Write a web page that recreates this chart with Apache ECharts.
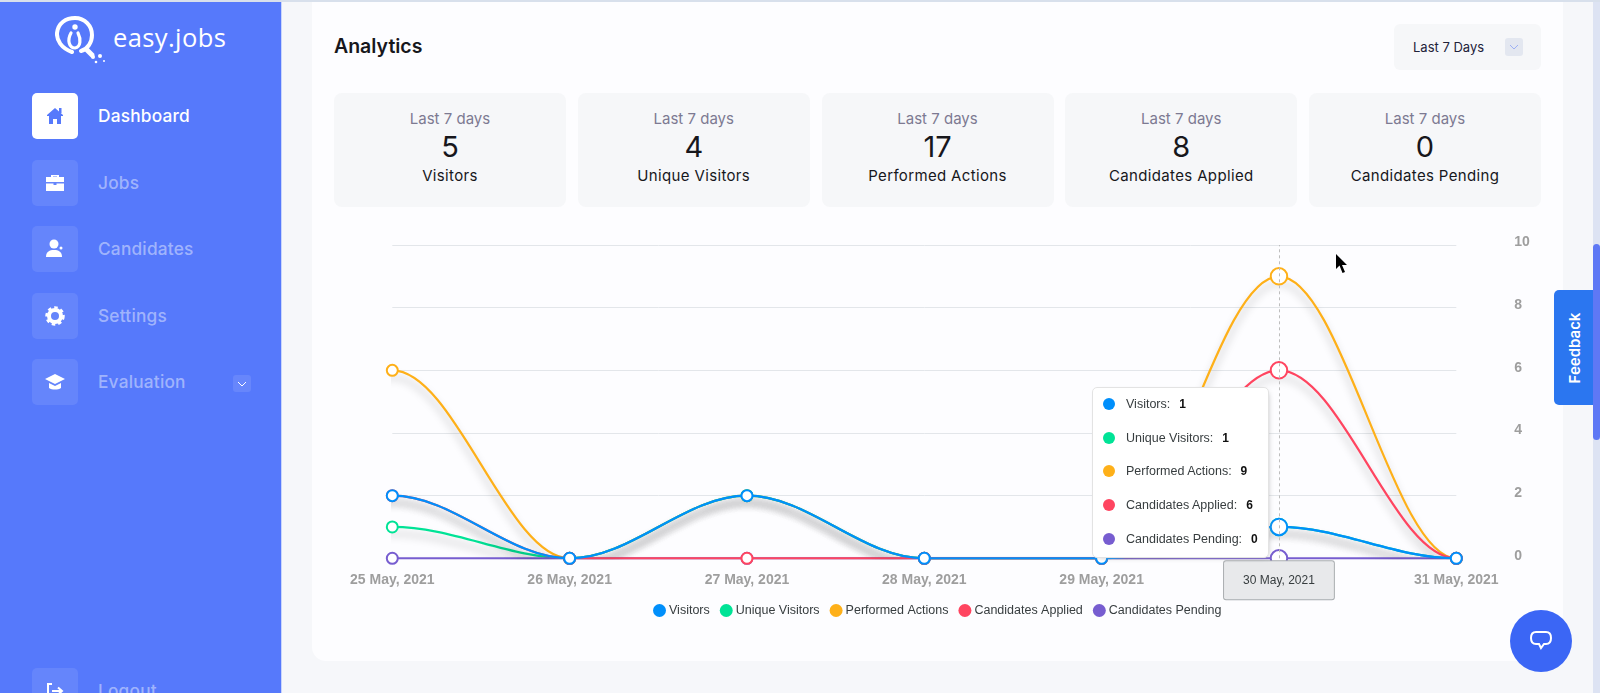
<!DOCTYPE html>
<html>
<head>
<meta charset="utf-8">
<style>
  html, body { margin: 0; height: 100%; overflow: hidden; background: #f6f7fa; font-family: Inter, "Noto Sans", sans-serif; }
  .abs { position: absolute; }
  #topline { left: 0; top: 0; width: 1600px; height: 2px; background: #d8e0ec; z-index: 3; }
  #sidebar { left: 0; top: 0; width: 281px; height: 693px; background: #5679fb; border-right: 1px solid #c9d5fb; }
  #panel { left: 312px; top: 0; width: 1251px; height: 661px; background: #fdfdff; border-radius: 0 0 14px 14px; }
  #scroll { left: 1593px; top: 0; width: 7px; height: 693px; background: #dde3f3; }
  #thumb { left: 1593px; top: 244px; width: 7px; height: 196px; background: #5e78f5; border-radius: 4px; }
  .nav-box { left: 32px; width: 46px; height: 46px; border-radius: 5px; background: rgba(255,255,255,.09); }
  .nav-box.active { background: #fff; }
  .nav-text { left: 98px; font-size: 17.3px; font-weight: 500; color: rgba(255,255,255,.45); line-height: 24px; letter-spacing: .2px; }
  .nav-text.active { color: #fff; }
  .stat { top: 93px; width: 232px; height: 114px; background: #f6f7f9; border-radius: 8px; text-align: center; }
  .stat .t { position: absolute; top: 16px; width: 100%; font-size: 15px; line-height: 20px; color: #7d7a92; }
  .stat .n { position: absolute; top: 34px; width: 100%; font-size: 29px; line-height: 40px; color: #17171c; }
  .stat .l { position: absolute; top: 73px; width: 100%; font-size: 15px; line-height: 20px; letter-spacing: .35px; color: #17171c; }
  #chart { left: 0; top: 0; width: 1600px; height: 693px; z-index: 2; }
  #feedback { left: 1554px; top: 290px; width: 39px; height: 115px; background: #2b76f0; border-radius: 5px 0 0 5px; z-index: 3; }
  #feedback span { position: absolute; left: 50%; top: 50%; transform: translate(-50%,-50%) rotate(-90deg); color: #fff; font-size: 15px; font-weight: 600; white-space: nowrap; }
  #chat { left: 1510px; top: 610px; width: 62px; height: 62px; border-radius: 50%; background: #3b66f5; z-index: 3; }
</style>
</head>
<body>
<div class="abs" id="topline"></div>
<div class="abs" id="sidebar"></div>
<div class="abs" id="panel"></div>
<div class="abs" id="scroll"></div>
<div class="abs" id="thumb"></div>

<svg class="abs" style="left:55px;top:15px" width="54" height="52" viewBox="0 0 54 52" fill="none" stroke="#fff" stroke-linecap="round">
  <path d="M17 37C6 33 1.500 25 2 18C3 8 11 3 20 3C30 3 37 11 37 20C37 27 33 34 26 36" stroke-width="4"/>
  <path d="M16 18C12 25 14 33 20 33C26 32 26 24 23 18" stroke-width="3.200"/>
  <circle cx="20" cy="12" r="2.700" fill="#fff" stroke="none"/>
  <path d="M32 35L37 40" stroke-width="5"/>
  <circle cx="38" cy="42" r="2" fill="#fff" stroke="none"/><circle cx="45" cy="41" r="2" fill="#fff" stroke="none"/>
  <circle cx="41" cy="47" r="1.300" fill="#fff" stroke="none"/><circle cx="49" cy="46" r="1" fill="#fff" stroke="none"/>
</svg>
<div class="abs" style="left:113px;top:18px;font:400 25.500px/38px 'Open Sans';color:#fff;letter-spacing:.4px">easy.jobs</div>

<div class="abs" style="left:334px;top:32px;font-size:19.5px;line-height:28px;font-weight:600;color:#17171c">Analytics</div>
<div class="abs" style="left:1394px;top:24px;width:147px;height:46px;background:#f6f7f9;border-radius:6px"></div>
<div class="abs" style="left:1413px;top:37px;font-size:13px;line-height:20px;color:#22223a">Last 7 Days</div>
<div class="abs" style="left:1505px;top:38px;width:18px;height:18px;background:#e3e7f0;border-radius:3px"></div>
<svg class="abs" style="left:1509px;top:44px" width="10" height="7" fill="none" stroke="#9db0f5"><path d="M1 1L5 5L9 1"/></svg>

<div id="furniture"></div>
<div class="abs" style="left:233px;top:375px;width:18px;height:17px;background:rgba(255,255,255,.1);border-radius:3px"></div>
<svg class="abs" style="left:237px;top:381px" width="10" height="7" fill="none" stroke="#fff"><path d="M1 1L5 5L9 1"/></svg>
<div class="abs" id="chart"></div>

<svg class="abs" style="left:1336px;top:254px;z-index:3" width="12" height="20" viewBox="0 0 12 20"><path d="M0 0V15L3.500 11.500L6.500 19L9 18L6 11H11Z" fill="#000"/></svg>
<div class="abs" id="feedback"><span>Feedback</span></div>
<div class="abs" id="chat">
  <svg class="abs" style="left:20px;top:21px" width="22" height="22" fill="none" stroke="#fff" stroke-width="2"><path d="M6 1H16C19 1 21 3 21 7C21 11 19 13 16 13H14L11 17L9 13H6C3 13 1 11 1 7C1 3 3 1 6 1Z"/></svg>
</div>

<script src="https://cdn.jsdelivr.net/npm/echarts@6/dist/echarts.min.js"></script>
<script>
var categories = ['25 May, 2021', '26 May, 2021', '27 May, 2021', '28 May, 2021', '29 May, 2021', '30 May, 2021', '31 May, 2021'];
var seriesNames = ['Visitors', 'Unique Visitors', 'Performed Actions', 'Candidates Applied', 'Candidates Pending'];
var visitors = [2, 0, 2, 0, 0, 1, 0];
var uniqueVisitors = [1, 0, 2, 0, 0, 1, 0];
var performedActions = [6, 0, 2, 0, 0, 9, 0];
var candidatesApplied = [2, 0, 0, 0, 0, 6, 0];
var candidatesPending = [0, 0, 0, 0, 0, 0, 0];
var seriesColors = ['#008FFB', '#00E396', '#FEB019', '#FF4560', '#775DD0'];
var seriesZ = [6, 3, 2, 5, 4];
var hoverDay = 5;

var statNames = ['Visitors', 'Unique Visitors', 'Performed Actions', 'Candidates Applied', 'Candidates Pending'];
var statValues = [5, 4, 17, 8, 0];
var navItems = ['Dashboard', 'Jobs', 'Candidates', 'Settings', 'Evaluation', 'Logout'];
var navTops = [93, 160, 226, 293, 359, 668];
var navIcons = [
    '<path d="M23 15L31 22V23H29V31H25V26H21V31H17V23H15V22Z" fill="C"/><rect x="27" y="15" width="2.500" height="5" fill="C"/>',
    '<path d="M19 17V15H27V17H32V22H14V17ZM21 17H25V16.500H21ZM14 23.500H21.500V25H24.500V23.500H32V31H14Z" fill="C"/>',
    '<circle cx="22" cy="18" r="4.500" fill="C"/><path d="M14 31C14 26 17 24 22 24C27 24 30 26 30 31Z" fill="C"/><circle cx="29" cy="22" r="1.500" fill="C"/>',
    '<circle cx="23" cy="23" r="6" fill="none" stroke="C" stroke-width="4"/><circle cx="23" cy="23" r="8.500" fill="none" stroke="C" stroke-width="2.500" stroke-dasharray="3.500 3"/>',
    '<path d="M23 15L33 20L23 25L13 20Z" fill="C"/><path d="M17 24L23 27L29 24V29C26 31 20 31 17 29Z" fill="C"/>',
    '<path d="M20 16H16V30H20" fill="none" stroke="C" stroke-width="2"/><path d="M20 23H29M26 19.500L30 23L26 26.500" fill="none" stroke="C" stroke-width="2"/>'
];

// page furniture around the chart
var html = '';
statNames.forEach(function (name, i) {
    html += '<div class="abs stat" style="left:' + (334 + i * 243.75) + 'px"><div class="t">Last 7 days</div>' +
        '<div class="n">' + statValues[i] + '</div><div class="l">' + name + '</div></div>';
});
navItems.forEach(function (name, i) {
    var cls = i === 0 ? ' active' : '';
    var col = i === 0 ? '#5679fb' : '#fff';
    html += '<div class="abs nav-box' + cls + '" style="top:' + navTops[i] + 'px">' +
        '<svg width="46" height="46">' + navIcons[i].replace(/"C"/g, '"' + col + '"') + '</svg></div>' +
        '<div class="abs nav-text' + cls + '" style="top:' + (navTops[i] + 11) + 'px">' + name + '</div>';
});
document.getElementById('furniture').innerHTML = html;

// one hidden day either side, cut off by xAxis min/max, so the curve leaves the first and last point flat
function padded(list) {
    return [list[0]].concat(list, [list[list.length - 1]]);
}

var dom = document.getElementById('chart');
var myChart = echarts.init(dom);

var seriesData = [visitors, uniqueVisitors, performedActions, candidatesApplied, candidatesPending];
var hoverIndex = hoverDay + 1;
var option = {
    animation: false,
    backgroundColor: 'transparent',
    grid: { left: 392.3, right: 143.7, top: 245, bottom: 134.7 },
    legend: {
        data: seriesNames.map(function (name, i) {
            return { name: name, itemStyle: { color: seriesColors[i], borderWidth: 0 } };
        }),
        left: 653,
        top: 604,
        padding: 0,
        icon: 'circle',
        itemWidth: 13,
        itemHeight: 13,
        itemGap: 10,
        textStyle: { fontFamily: 'Liberation Sans', fontSize: 12.5, color: '#373d3f', padding: [0, 0, 0, -2] }
    },
    tooltip: {
        trigger: 'axis',
        alwaysShowContent: true,
        transitionDuration: 0,
        padding: 0,
        backgroundColor: '#fff',
        borderColor: '#e3e3e3',
        borderWidth: 1,
        extraCssText: 'border-radius:5px;box-shadow:2px 2px 6px -4px #999;',
        position: [1092, 387],
        formatter: function (params) {
            var rows = params.map(function (p) {
                return '<div style="display:flex;align-items:center;height:33.8px;padding-left:10px;white-space:nowrap;font:12.5px \'Liberation Sans\';color:#373d3f">' +
                    '<span style="flex:none;width:12px;height:12px;border-radius:50%;margin-right:11px;background:' + seriesColors[p.seriesIndex] + '"></span>' +
                    p.seriesName + ':<b style="margin-left:9px;font-size:12px;color:#111">' + p.value + '</b></div>';
            });
            return '<div style="width:175px;margin-top:-1px;padding-bottom:1px">' + rows.join('') + '</div>';
        }
    },
    xAxis: {
        type: 'category',
        boundaryGap: false,
        data: padded(categories),
        min: 1,
        max: categories.length,
        axisLine: { show: false },
        axisTick: { show: false },
        axisLabel: { fontFamily: 'Liberation Sans', fontWeight: 'bold', fontSize: 14, color: '#9e9e9e', margin: 15 },
        axisPointer: {
            show: true,
            type: 'line',
            value: hoverIndex,
            status: 'show',
            lineStyle: { color: '#bdbdbd', type: [3, 3], width: 1 },
            label: {
                show: true,
                margin: 3,
                padding: [13, 19],
                fontFamily: 'Liberation Sans',
                fontSize: 12,
                color: '#373d3f',
                backgroundColor: '#e8e9eb',
                borderColor: '#a9adb0',
                borderWidth: 1,
                borderRadius: 2
            }
        }
    },
    yAxis: {
        type: 'value',
        position: 'right',
        min: 0,
        max: 10,
        interval: 2,
        axisLine: { show: false },
        axisTick: { show: false },
        axisLabel: {
            fontFamily: 'Liberation Sans', fontWeight: 'bold', fontSize: 14, color: '#9e9e9e',
            margin: 58, align: 'left', verticalAlign: 'bottom', lineHeight: 5
        },
        splitLine: { lineStyle: { color: '#e3e6ea', width: 1 } }
    },
    series: seriesNames.map(function (name, i) {
        return {
            name: name,
            type: 'line',
            data: padded(seriesData[i]),
            z: seriesZ[i],
            smooth: 0.35,
            smoothMonotone: 'x',
            symbol: 'circle',
            symbolSize: function (v, p) { return p.dataIndex === hoverIndex ? 15 : 11; },
            showAllSymbol: true,
            itemStyle: { color: '#fff', borderColor: seriesColors[i], borderWidth: 2 },
            lineStyle: {
                color: seriesColors[i], width: 2.2,
                shadowColor: 'rgba(0,0,0,0.28)', shadowBlur: 9, shadowOffsetY: 7
            },
            emphasis: { disabled: true }
        };
    })
};
myChart.setOption(option);
myChart.dispatchAction({ type: 'showTip', seriesIndex: 0, dataIndex: hoverIndex });
</script>
</body>
</html>
